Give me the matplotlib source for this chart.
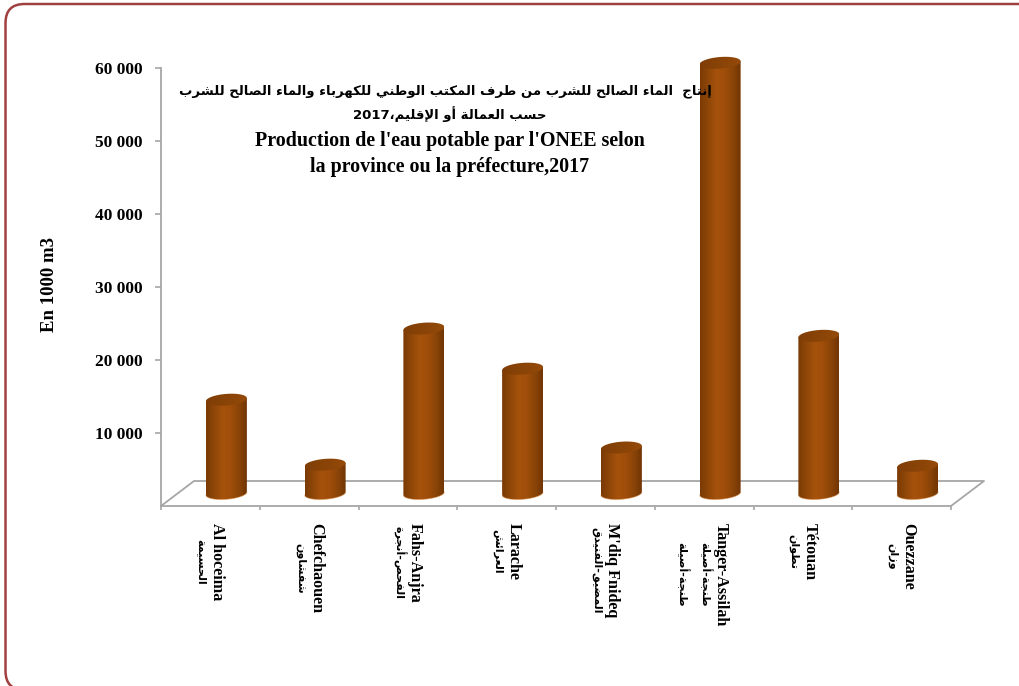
import re
import numpy as np
import matplotlib
matplotlib.use("Agg")
import matplotlib.pyplot as plt
from matplotlib.colors import LinearSegmentedColormap
from matplotlib.patches import FancyBboxPatch, PathPatch
from matplotlib.path import Path
from matplotlib.transforms import IdentityTransform

# data
labels_fr = ["Al hoceima", "Chefchaouen", "Fahs-Anjra", "Larache",
             "M'diq Fnideq", "Tanger-Assilah", "Tétouan", "Ouezzane"]
labels_ar = ["الحسيمة", "شفشاون", "الفحص-أنجرة", "العرائش",
             "المضيق-الفنيدق", "طنجة-أصيلة\nطنجة-أصيلة", "تطوان", "وزان"]
production = [12850, 3950, 22600, 17100, 6300, 59000, 21600, 3800]
yticks = [10000, 20000, 30000, 40000, 50000, 60000]
ytick_labels = ["10 000", "20 000", "30 000", "40 000", "50 000", "60 000"]
title_ar = ["إنتاج  الماء الصالح للشرب من طرف المكتب الوطني للكهرباء والماء الصالح للشرب",
            "حسب العمالة أو الإقليم،2017"]
title_fr = ["Production de l'eau potable par l'ONEE selon",
            "la province ou la préfecture,2017"]
ylabel = "En 1000 m3"

# arabic has to be shaped by hand, matplotlib does no joining or bidi
# letter -> first codepoint in presentation forms B, and how many forms it has
FORMS = {"ء": (0xFE80, 1), "أ": (0xFE83, 2), "إ": (0xFE87, 2), "ئ": (0xFE89, 4),
         "ا": (0xFE8D, 2), "ب": (0xFE8F, 4), "ة": (0xFE93, 2), "ت": (0xFE95, 4),
         "ج": (0xFE9D, 4), "ح": (0xFEA1, 4), "د": (0xFEA9, 2), "ر": (0xFEAD, 2),
         "ز": (0xFEAF, 2), "س": (0xFEB1, 4), "ش": (0xFEB5, 4), "ص": (0xFEB9, 4),
         "ض": (0xFEBD, 4), "ط": (0xFEC1, 4), "ع": (0xFEC9, 4), "ف": (0xFED1, 4),
         "ق": (0xFED5, 4), "ك": (0xFED9, 4), "ل": (0xFEDD, 4), "م": (0xFEE1, 4),
         "ن": (0xFEE5, 4), "ه": (0xFEE9, 4), "و": (0xFEED, 2), "ي": (0xFEF1, 4)}
LAM_ALEF = {"ا": 0xFEFB, "أ": 0xFEF7, "إ": 0xFEF9}


def shape(text):
    out = []
    i = 0
    prev_joins = False
    while i < len(text):
        c = text[i]
        if c not in FORMS:
            out.append(c)
            prev_joins = False
            i += 1
            continue
        if c == "ل" and i + 1 < len(text) and text[i + 1] in LAM_ALEF:
            out.append(chr(LAM_ALEF[text[i + 1]] + (1 if prev_joins else 0)))
            prev_joins = False
            i += 2
            continue
        base, n = FORMS[c]
        nxt = text[i + 1] if i + 1 < len(text) else ""
        next_joins = n == 4 and nxt in FORMS and FORMS[nxt][1] > 1
        if n == 1:
            form = 0
        elif prev_joins and next_joins:
            form = 3
        elif next_joins:
            form = 2
        elif prev_joins:
            form = 1
        else:
            form = 0
        out.append(chr(base + form))
        prev_joins = next_joins
        i += 1
    visual = "".join(out)[::-1]
    return re.sub(r"\d+", lambda m: m.group(0)[::-1], visual)


W, H = 1019, 686
LATIN = "Liberation Serif"
GRAY = "#a6a6a6"

fig = plt.figure(figsize=(W / 100, H / 100), dpi=100, facecolor="white")
ax = fig.add_axes([161 / W, (H - 506) / H, (951 - 161) / W, (506 - 68) / H])
ax.set_xlim(0, len(production))
ax.set_ylim(0, 60000)
ax.patch.set_visible(False)

px_x = (951 - 161) / len(production)   # pixels per category
px_y = (506 - 68) / 60000              # pixels per unit of value

# frame of the slide, it runs off the right and bottom edges
fig.add_artist(FancyBboxPatch((5.5, H - 690), 1040, 686,
                              boxstyle="round,pad=0,rounding_size=19",
                              fc="none", ec="#a04040", lw=1.8,
                              transform=IdentityTransform()))

# axes and the floor in false perspective
for s in ["top", "right"]:
    ax.spines[s].set_visible(False)
for s in ["left", "bottom"]:
    ax.spines[s].set_color(GRAY)
    ax.spines[s].set_linewidth(1.3)

depth_x = 33 / px_x
depth_y = 25 / px_y
n = len(production)
ax.plot([0, depth_x, n + depth_x, n], [0, depth_y, depth_y, 0],
        color=GRAY, lw=1.3, clip_on=False, zorder=1)

# cylinders
cmap = LinearSegmentedColormap.from_list(
    "bar", ["#7a3a05", "#8f4708", "#a5520c", "#a04e0a", "#8c4508", "#723605"])
gradient = np.linspace(0, 1, 64).reshape(1, -1)
gradient_top = np.linspace(0.05, 0.25, 64).reshape(1, -1)

half_w = 20.5 / px_x
half_h = 5.8 / px_y
tilt = 0.075   # cylinders lean a little, right side of the ellipse is higher
t = np.linspace(0, 2 * np.pi, 73)


def ellipse(cx, cy):
    ex = cx + half_w * np.cos(t)
    ey = cy + half_h * np.sin(t) + tilt * 20.5 * np.cos(t) / px_y
    return ex, ey


base_y = (506 - 493.5) / px_y
for i, value in enumerate(production):
    cx = i + 0.5 + 16 / px_x
    top_y = base_y + value
    tx, ty = ellipse(cx, top_y)
    # body: top half is hidden by the cap, so go round the lower half of the base
    lower = t[36:]
    rim_x = cx + half_w * np.cos(lower)
    rim_y = base_y + half_h * np.sin(lower) + tilt * 20.5 * np.cos(lower) / px_y
    body_x = np.r_[rim_x, cx + half_w, cx - half_w]
    body_y = np.r_[rim_y, top_y + tilt * 20.5 / px_y, top_y - tilt * 20.5 / px_y]
    body = PathPatch(Path(np.c_[body_x, body_y]), fc="none", ec="none", zorder=3)
    body.set_clip_on(False)
    ax.add_patch(body)
    im = ax.imshow(gradient, cmap=cmap, vmin=0, vmax=1, aspect="auto", zorder=3,
                   extent=[cx - half_w, cx + half_w, 0, top_y + half_h * 3])
    im.set_clip_box(fig.bbox)
    im.set_clip_path(body)
    cap = PathPatch(Path(np.c_[tx, ty]), fc="none", ec="none", zorder=4)
    cap.set_clip_on(False)
    ax.add_patch(cap)
    im2 = ax.imshow(gradient_top, cmap=cmap, vmin=0, vmax=1, aspect="auto", zorder=4,
                    extent=[cx - half_w, cx + half_w, top_y - half_h * 3, top_y + half_h * 3])
    im2.set_clip_box(fig.bbox)
    im2.set_clip_path(cap)
    ax.plot(rim_x, rim_y, color="#e0954f", lw=0.6, alpha=0.6, zorder=5)

ax.set_xlim(0, n)
ax.set_ylim(0, 60000)

ax.set_yticks(yticks)
ax.set_yticklabels(ytick_labels, family=LATIN, fontweight="bold", fontsize=12.5)
ax.set_xticks(range(n + 1))
ax.set_xticklabels([])
ax.tick_params(axis="y", color=GRAY, length=4, width=1.2, pad=9)
ax.tick_params(axis="x", color=GRAY, length=3, width=1.2)

# category labels, rotated, centred on the same line
for i, (fr, ar) in enumerate(zip(labels_fr, labels_ar)):
    three = "\n" in ar
    t_fr = ax.annotate(fr, xy=(i + 0.5, 0), xycoords=("data", "axes fraction"),
                       xytext=(17 if three else 7, -17), textcoords="offset pixels",
                       rotation=270, ha="center", va="top", family=LATIN,
                       fontweight="bold", fontsize=11.6)
    for j, line in enumerate(ar.split("\n")):
        ax.annotate(shape(line), xy=(0.5, 0.5), xycoords=t_fr,
                    xytext=(-16 - j * 23, 0), textcoords="offset pixels",
                    rotation=270, ha="center", va="center", family="DejaVu Sans",
                    fontweight="bold", fontsize=8)

fig.text(49 / W, (H - 285) / H, ylabel, rotation=90, ha="center", va="center",
         family=LATIN, fontweight="bold", fontsize=13.5)

# title sits inside the plot, over the tall bar
for text, x, y in zip(title_ar, [445, 450], [91, 114]):
    fig.text(x / W, (H - y) / H, shape(text), ha="center", va="center",
             family="DejaVu Sans", fontweight="bold", fontsize=9.5, zorder=10)
for text, y in zip(title_fr, [141, 167]):
    fig.text(450 / W, (H - y) / H, text, ha="center", va="center",
             family=LATIN, fontweight="bold", fontsize=14.4, zorder=10)

fig.savefig("out.png", dpi=100)
